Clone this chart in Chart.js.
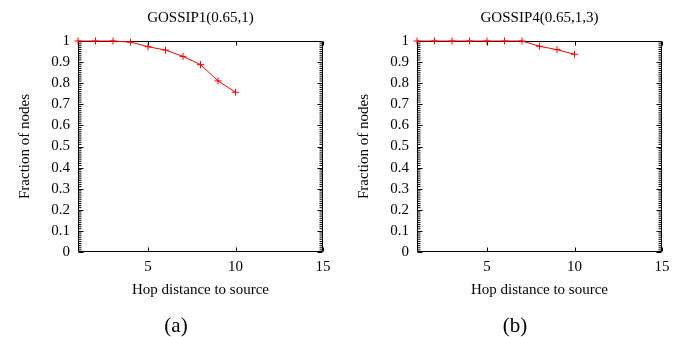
<!DOCTYPE html>
<html><head><meta charset="utf-8">
<script src="https://cdn.jsdelivr.net/npm/chart.js@4.4.0/dist/chart.umd.min.js"></script>
<style>
html,body{margin:0;padding:0;background:#fff;}
#wrap{position:relative;width:678px;height:337px;}
.panel{position:absolute;top:0;width:339px;height:337px;}
canvas{display:block;}
</style></head><body>
<div id="wrap">
<div class="panel" style="left:0"><canvas id="c1" width="339" height="337"></canvas></div>
<div class="panel" style="left:339px"><canvas id="c2" width="339" height="337"></canvas></div>
</div>
<script>
// ---- data ----
const hops = [1, 2, 3, 4, 5, 6, 7, 8, 9, 10];
const gossip1 = [1, 1, 1, 0.995, 0.973, 0.957, 0.927, 0.888, 0.811, 0.757];
const gossip4 = [1, 1, 1, 1, 1, 1, 1, 0.975, 0.959, 0.937];
const xTickValues = [5, 10, 15];
const yTickValues = [0, 0.1, 0.2, 0.3, 0.4, 0.5, 0.6, 0.7, 0.8, 0.9, 1];
const panelTitles = ['GOSSIP1(0.65,1)', 'GOSSIP4(0.65,1,3)'];
const panelLabels = ['(a)', '(b)'];
const xTitle = 'Hop distance to source';
const yTitle = 'Fraction of nodes';

const FONT = "'Liberation Serif', 'Times New Roman', serif";

// frame with inward ticks (gnuplot style), drawn from the chart's own scales,
// then the series is drawn on top of it
const framePlugin = {
  id: 'frameTicks',
  beforeDatasetsDraw() { return false; },
  afterDraw(chart) {
    const ctx = chart.ctx;
    const a = chart.chartArea;
    const x = chart.scales.x, y = chart.scales.y;
    const L = Math.round(a.left) + 0.5, R = Math.round(a.right) - 0.5;
    const T = Math.round(a.top) + 0.5, B = Math.round(a.bottom) - 0.5;
    ctx.save();
    ctx.strokeStyle = '#000';
    ctx.lineWidth = 1;
    ctx.beginPath();
    ctx.moveTo(L, T); ctx.lineTo(R, T); ctx.lineTo(R, B); ctx.lineTo(L, B); ctx.closePath();
    ctx.stroke();
    // minor y ticks
    ctx.beginPath();
    const step = (yTickValues[1] - yTickValues[0]) / 10;
    const n = Math.round((y.max - y.min) / step);
    for (let i = 0; i <= n; i++) {
      if (i % 10 === 0) continue;
      const py = y.getPixelForValue(y.min + i * step);
      ctx.moveTo(L, py); ctx.lineTo(L + 3, py);
      ctx.moveTo(R, py); ctx.lineTo(R - 3, py);
    }
    ctx.stroke();
    // major y ticks
    ctx.beginPath();
    yTickValues.forEach(v => {
      const py = Math.round(y.getPixelForValue(v)) + 0.5;
      ctx.moveTo(L, py); ctx.lineTo(L + 5, py);
      ctx.moveTo(R, py); ctx.lineTo(R - 5, py);
    });
    // x ticks
    xTickValues.forEach(v => {
      const px = Math.round(x.getPixelForValue(v)) + 0.5;
      ctx.moveTo(px, B); ctx.lineTo(px, B - 4);
      ctx.moveTo(px, T); ctx.lineTo(px, T + 4);
    });
    ctx.stroke();
    ctx.restore();
    chart.getDatasetMeta(0).controller.draw();
  }
};

function makeChart(id, values, title, label) {
  return new Chart(document.getElementById(id), {
    type: 'line',
    data: {
      datasets: [{
        data: hops.map((h, i) => ({x: h, y: values[i]})),
        borderColor: '#ff0000',
        backgroundColor: '#ff0000',
        borderWidth: 1,
        pointStyle: 'cross',
        pointRadius: 3.5,
        pointBorderWidth: 1,
        pointHoverRadius: 3.5,
        tension: 0,
        clip: false
      }]
    },
    options: {
      responsive: false,
      animation: false,
      events: [],
      layout: {padding: {left: 29, right: 16, top: 0, bottom: 0}},
      plugins: {
        legend: {display: false},
        tooltip: {enabled: false},
        title: {
          display: true, text: title, color: '#000', fullSize: false,
          font: {family: FONT, size: 15, weight: 'normal', lineHeight: 1.2},
          padding: {top: 9.5, bottom: 13.5}
        },
        subtitle: {
          display: true, text: label, position: 'bottom', color: '#000',
          font: {family: FONT, size: 21, weight: 'normal', lineHeight: 1},
          padding: {top: 16.5, bottom: 0.5}
        }
      },
      scales: {
        x: {
          type: 'linear', min: 1, max: 15,
          afterBuildTicks: s => { s.ticks = xTickValues.map(v => ({value: v})); },
          afterFit: s => { s.height = 47; },
          grid: {display: false, drawTicks: false},
          border: {display: false},
          ticks: {color: '#000', padding: 6, font: {family: FONT, size: 15}, autoSkip: false, maxRotation: 0},
          title: {display: true, text: xTitle, color: '#000',
                  font: {family: FONT, size: 15, lineHeight: 1.2}, padding: {top: 5, bottom: 0}}
        },
        y: {
          type: 'linear', min: 0, max: 1,
          afterBuildTicks: s => { s.ticks = yTickValues.map(v => ({value: v})); },
          afterFit: s => { s.width = 49; },
          grid: {display: false, drawTicks: false},
          border: {display: false},
          ticks: {color: '#000', padding: 8, font: {family: FONT, size: 15}, autoSkip: false,
                  callback: v => (v === 0 ? '0' : v === 1 ? '1' : v.toFixed(1))},
          title: {display: true, text: yTitle, color: '#000',
                  font: {family: FONT, size: 15, lineHeight: 1.2}, padding: {top: -13, bottom: 0}}
        }
      }
    },
    plugins: [framePlugin]
  });
}

makeChart('c1', gossip1, panelTitles[0], panelLabels[0]);
makeChart('c2', gossip4, panelTitles[1], panelLabels[1]);
</script>
</body></html>
